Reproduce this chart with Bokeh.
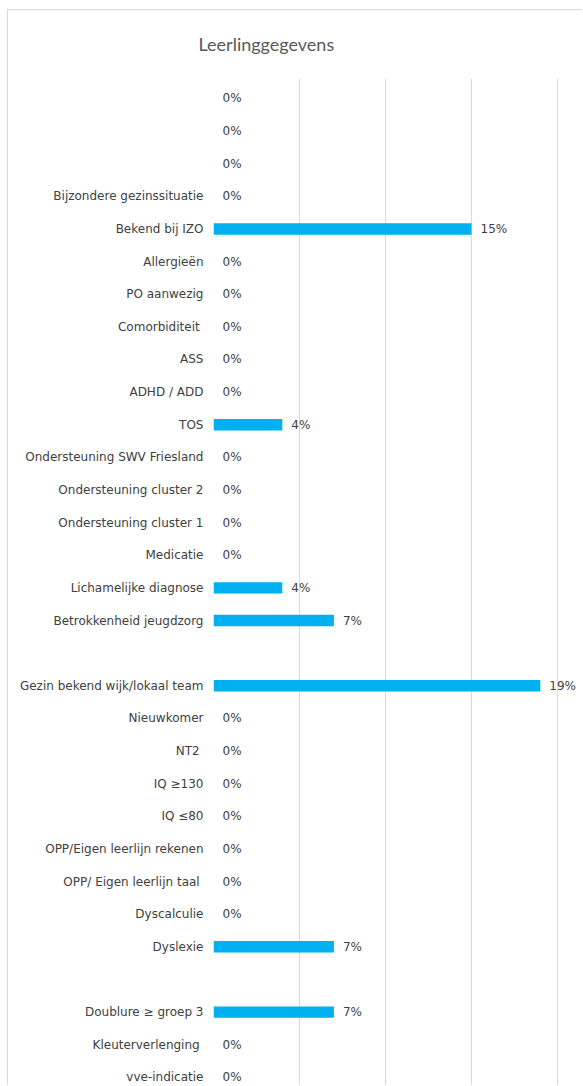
from bokeh.plotting import figure
from bokeh.models import ColumnDataSource, Range1d, FixedTicker, Title
from bokeh.core.properties import value
from bokeh.embed import file_html
from bokeh.resources import INLINE

categories = [
    "", "", "", "Bijzondere gezinssituatie", "Bekend bij IZO", "Allergieën",
    "PO aanwezig", "Comorbiditeit ", "ASS", "ADHD / ADD", "TOS",
    "Ondersteuning SWV Friesland", "Ondersteuning cluster 2",
    "Ondersteuning cluster 1", "Medicatie", "Lichamelijke diagnose",
    "Betrokkenheid jeugdzorg", "", "Gezin bekend wijk/lokaal team",
    "Nieuwkomer", "NT2 ", "IQ ≥130", "IQ ≤80", "OPP/Eigen leerlijn rekenen",
    "OPP/ Eigen leerlijn taal ", "Dyscalculie", "Dyslexie", "",
    "Doublure ≥ groep 3", "Kleuterverlenging ", "vve-indicatie",
]
values = [
    0, 0, 0, 0, 15, 0, 0, 0, 0, 0, 4, 0, 0, 0, 0, 4, 7, None, 19,
    0, 0, 0, 0, 0, 0, 0, 7, None, 7, 0, 0,
]
grid_ticks = [0, 5, 10, 15, 20]

idx = [i for i, v in enumerate(values) if v is not None]
src = ColumnDataSource(dict(
    y=idx,
    v=[values[i] for i in idx],
    lab=[f"{values[i]:.0f}%" for i in idx],
))

FONT = "DejaVu Sans"
TXT = "#404040"

p = figure(width=575, height=1076, output_backend="svg", toolbar_location=None,
           x_range=Range1d(0, 21.51), y_range=Range1d(30.28, -0.61),
           min_border_left=205, min_border_right=0, min_border_top=68,
           min_border_bottom=0, x_axis_location=None)
p.outline_line_color = None

p.add_layout(Title(text="Leerlinggegevens", text_font="Lato", text_font_size="18px",
                   text_font_style="normal", text_color="#595959",
                   vertical_align="top",
                   align="left", offset=-15, standoff=44), "above")

p.hbar(y="y", left=0, right="v", height=0.35, source=src,
       fill_color="#00B0F0", line_color=None)
p.text(x="v", y="y", text="lab", source=src, x_offset=9,
       text_baseline="middle", text_align="left",
       text_font=value(FONT), text_font_size="12px", text_color=TXT)

p.xgrid.ticker = FixedTicker(ticks=grid_ticks)
p.xgrid.grid_line_color = "#d9d9d9"
p.ygrid.grid_line_color = None

ya = p.yaxis[0]
ya.ticker = FixedTicker(ticks=list(range(len(categories))))
ya.major_label_overrides = {i: c for i, c in enumerate(categories)}
ya.axis_line_color = None
ya.major_tick_line_color = None
ya.minor_tick_line_color = None
ya.major_tick_out = 0
ya.major_label_standoff = 10
ya.major_label_text_font = FONT
ya.major_label_text_font_size = "12px"
ya.major_label_text_color = TXT

p.styles = {"border-left": "1px solid #d9d9d9", "border-top": "1px solid #d9d9d9",
            "margin-left": "7px", "margin-top": "9px"}

open("out.html", "w").write(file_html(p, INLINE))
